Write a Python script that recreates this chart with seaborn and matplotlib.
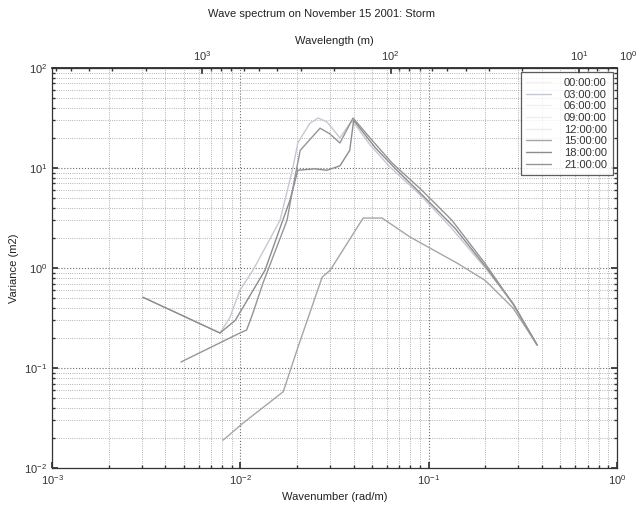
import numpy as np
import pandas as pd
import matplotlib
matplotlib.use("Agg")
import matplotlib.pyplot as plt
from matplotlib.lines import Line2D
from matplotlib.ticker import FixedLocator, LogLocator, NullFormatter
import seaborn as sns

# Spectra: wavenumber (rad/m) and variance (m2) for each time of day
k_0300 = [0.00304, 0.0078, 0.0088, 0.00995, 0.01167, 0.01625, 0.01905, 0.0202,
          0.0234, 0.0259, 0.0289, 0.0338, 0.0392, 0.0489, 0.0624, 0.090, 0.130,
          0.200, 0.280, 0.375]
v_0300 = [0.51, 0.224, 0.32, 0.60, 0.95, 3.0, 10.2, 17.8,
          28.0, 31.6, 28.8, 20.0, 30.0, 17.0, 10.2, 5.4, 2.6,
          1.0, 0.45, 0.17]

k_1500 = [0.0081, 0.0103, 0.0169, 0.0202, 0.0272, 0.030, 0.0449, 0.0566,
          0.0797, 0.1416, 0.200, 0.280, 0.377]
v_1500 = [0.019, 0.028, 0.058, 0.16, 0.81, 0.95, 3.16, 3.16,
          2.04, 1.12, 0.75, 0.40, 0.17]

k_1800 = [0.00304, 0.0078, 0.0094, 0.01352, 0.01837, 0.0202, 0.0248, 0.0288,
          0.0338, 0.0381, 0.040, 0.052, 0.066, 0.095, 0.138, 0.205, 0.285, 0.377]
v_1800 = [0.51, 0.224, 0.30, 0.95, 4.8, 9.5, 9.8, 9.5,
          10.5, 15.0, 30.0, 16.0, 10.0, 5.1, 2.5, 0.98, 0.42, 0.17]

k_2100 = [0.00484, 0.00995, 0.01080, 0.01167, 0.0132, 0.0177, 0.0195, 0.0208,
          0.0265, 0.0298, 0.0338, 0.0397, 0.050, 0.064, 0.092, 0.133, 0.200,
          0.280, 0.377]
v_2100 = [0.115, 0.224, 0.24, 0.355, 0.71, 3.0, 8.1, 15.0,
          25.0, 22.0, 17.8, 31.6, 19.0, 11.2, 6.0, 3.0, 1.1,
          0.44, 0.17]

times = ["00:00:00", "03:00:00", "06:00:00", "09:00:00",
         "12:00:00", "15:00:00", "18:00:00", "21:00:00"]
colors = ["#f2f2f2", "#c4c9d4", "#f0f0f0", "#eeeeee",
          "#ececec", "#a6a6a6", "#8c8c8c", "#959595"]

series = {
    "03:00:00": (k_0300, v_0300),
    "15:00:00": (k_1500, v_1500),
    "18:00:00": (k_1800, v_1800),
    "21:00:00": (k_2100, v_2100),
}

rows = []
for t, (ks, vs) in series.items():
    for i, (kk, vv) in enumerate(zip(ks, vs)):
        rows.append({"time": t, "k": kk, "v": vv, "i": i})
df = pd.DataFrame(rows)

sns.set_theme(style="ticks")
plt.rcParams["font.family"] = ["Liberation Sans", "DejaVu Sans"]
plt.rcParams["mathtext.default"] = "regular"

fig = plt.figure(figsize=(6.42, 5.11), dpi=100)
ax = fig.add_axes([0.081, 0.084, 0.880, 0.783])

palette = dict(zip(times, colors))
sns.lineplot(data=df, x="k", y="v", hue="time", palette=palette,
             units="time", estimator=None, sort=False, lw=1.0,
             legend=False, ax=ax)

ax.set_xscale("log")
ax.set_yscale("log")
ax.set_xlim(1e-3, 1e0)
ax.set_ylim(1e-2, 1e2)

ax.grid(which="major", ls=":", color="#6e6e6e", lw=0.8)
ax.grid(which="minor", ls=":", color="#9a9a9a", lw=0.6)
ax.tick_params(which="both", direction="in", labelsize=8, colors="#333333",
               top=False, right=True)
ax.tick_params(which="major", length=4)
ax.tick_params(which="minor", length=2)
for sp in ax.spines.values():
    sp.set_color("#333333")
    sp.set_linewidth(0.9)

ax.set_xlabel("Wavenumber (rad/m)", fontsize=8, color="#222222")
ax.set_ylabel("Variance (m2)", fontsize=8, color="#222222")

# Wavelength axis on top: lambda = 2*pi / k
sec = ax.secondary_xaxis("top", functions=(lambda k: 2 * np.pi / k,
                                           lambda l: 2 * np.pi / l))
sec.xaxis.set_major_locator(FixedLocator([1e1, 1e2, 1e3]))
sec.xaxis.set_minor_locator(LogLocator(base=10, subs=np.arange(2, 10),
                                       numticks=20))
sec.xaxis.set_minor_formatter(NullFormatter())
sec.tick_params(which="both", direction="in", labelsize=8, colors="#333333")
sec.tick_params(which="major", length=4)
sec.tick_params(which="minor", length=2)
sec.set_xlabel("Wavelength (m)", fontsize=8, color="#222222", labelpad=4)
ax.text(1.003, 1.012, "$10^0$", transform=ax.transAxes, fontsize=8,
        color="#333333", ha="left", va="bottom")

fig.suptitle("Wave spectrum on November 15 2001: Storm", fontsize=8,
             color="#222222", y=0.982)

handles = [Line2D([], [], color=c, lw=1.0) for c in colors]
leg = ax.legend(handles, times, loc="upper right", fontsize=8,
                frameon=True, fancybox=False, borderpad=0.5,
                labelspacing=0.15, handlelength=2.2, handletextpad=1.2,
                borderaxespad=0.4)
leg.get_frame().set_edgecolor("#333333")
leg.get_frame().set_linewidth(0.9)
for txt in leg.get_texts():
    txt.set_color("#333333")

fig.savefig("out.png", dpi=100, facecolor="white")
